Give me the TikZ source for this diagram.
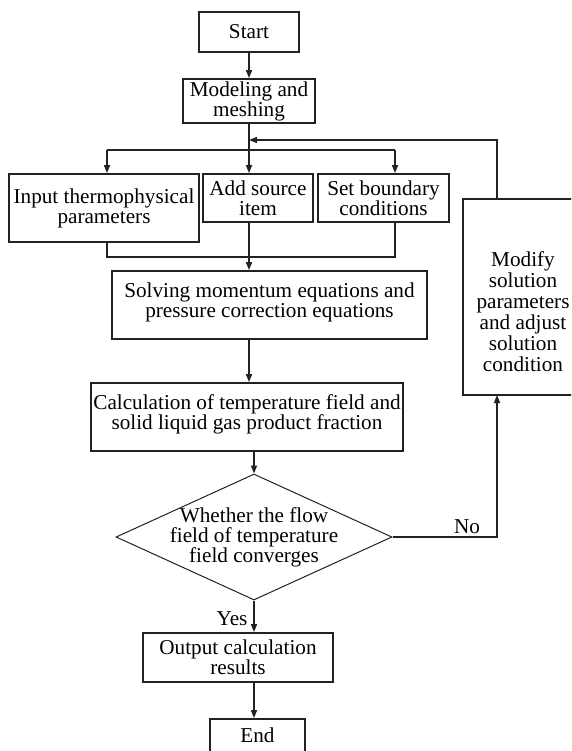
\documentclass[tikz,border=0pt]{standalone}
\usepackage{fontspec}
\setmainfont{Liberation Serif}
\usetikzlibrary{arrows.meta,shapes.geometric}
\definecolor{ink}{HTML}{222222}

\begin{document}
\begin{tikzpicture}[x=1pt,y=-1pt,>={Triangle[length=8pt,width=6pt]},
  font=\fontsize{21.2}{20}\selectfont,
  box/.style={draw=ink,line width=1.8pt,align=center,inner sep=1pt},
  link/.style={draw=ink,line width=1.5pt}]
\useasboundingbox (0,0) rectangle (571,751);
\clip (0,0) rectangle (571,751);
% 1: set-up
\node[box,minimum width=100pt,minimum height=40pt] (start) at (249,32) {Start};
\node[box,minimum width=132pt,minimum height=44pt] (model) at (249,101) {Modeling and\\meshing};
\node[box,minimum width=190pt,minimum height=68pt] (input) at (104,208) {Input thermophysical\\parameters};
\node[box,minimum width=110pt,minimum height=48pt] (source) at (258,198) {Add source\\item};
\node[box,minimum width=131pt,minimum height=48pt] (bound) at (383.5,198) {Set boundary\\conditions};
% 2: solver loop
\node[box,minimum width=315pt,minimum height=68pt] (solve) at (269.5,305) {Solving momentum equations and\\pressure correction equations\\[-11pt]};
\node[box,minimum width=312pt,minimum height=68pt] (calc) at (247,417) {Calculation of temperature field and\\solid liquid gas product fraction\\[-10pt]};
\node[draw=ink,line width=1pt,diamond,inner sep=0pt,minimum width=276pt,minimum height=126pt] (conv) at (254,537) {};
\node[align=center] (convtext) at (254,537) {Whether the flow\\field of temperature\\field converges};
\node[box,minimum width=120pt,minimum height=196pt] (modify) at (523,297) {};
\node[align=center,font=\fontsize{21.2}{21}\selectfont] (modifytext) at (523,312) {Modify\\solution\\parameters\\and adjust\\solution\\condition};
% 3: output
\node[box,minimum width=190pt,minimum height=49pt] (output) at (238,657.5) {Output calculation\\results};
\node[box,minimum width=95pt,minimum height=52pt] (endb) at (257.5,745) {End\\};
% links
\coordinate (dl) at (107,150);
\coordinate (dr) at (395,150);
\coordinate (cl) at (107,257);
\coordinate (cr) at (395,257);
\coordinate (merge) at (249,140);
\coordinate (nofoot) at (497,395);
\coordinate (nohead) at (497,199);
\draw[link,->] (start) -- (model);
\draw[link,->] (model.south) -- (model.south |- source.north);
\draw[link] (dl) -- (dr);
\draw[link,->] (dl) -- (dl |- input.north);
\draw[link,->] (dr) -- (dr |- bound.north);
\draw[link] (dl |- input.south) -- (cl) -- (cr) -- (dr |- bound.south);
\draw[link,->] (model.south |- source.south) -- (model.south |- solve.north);
\draw[link,->] (model.south |- solve.south) -- (model.south |- calc.north);
\draw[link,->] (conv.north |- calc.south) -- (conv.north);
\draw[link,->] (conv.south) -- (conv.south |- output.north);
\draw[link,->] (conv.south |- output.south) -- (conv.south |- endb.north);
\draw[link,->] (conv.east) -| (nofoot);
\draw[link,->] (nohead) |- (merge);
\node (nolab) at (467,527) {No};
\node (yeslab) at (232,619) {Yes};
\end{tikzpicture}
\end{document}
